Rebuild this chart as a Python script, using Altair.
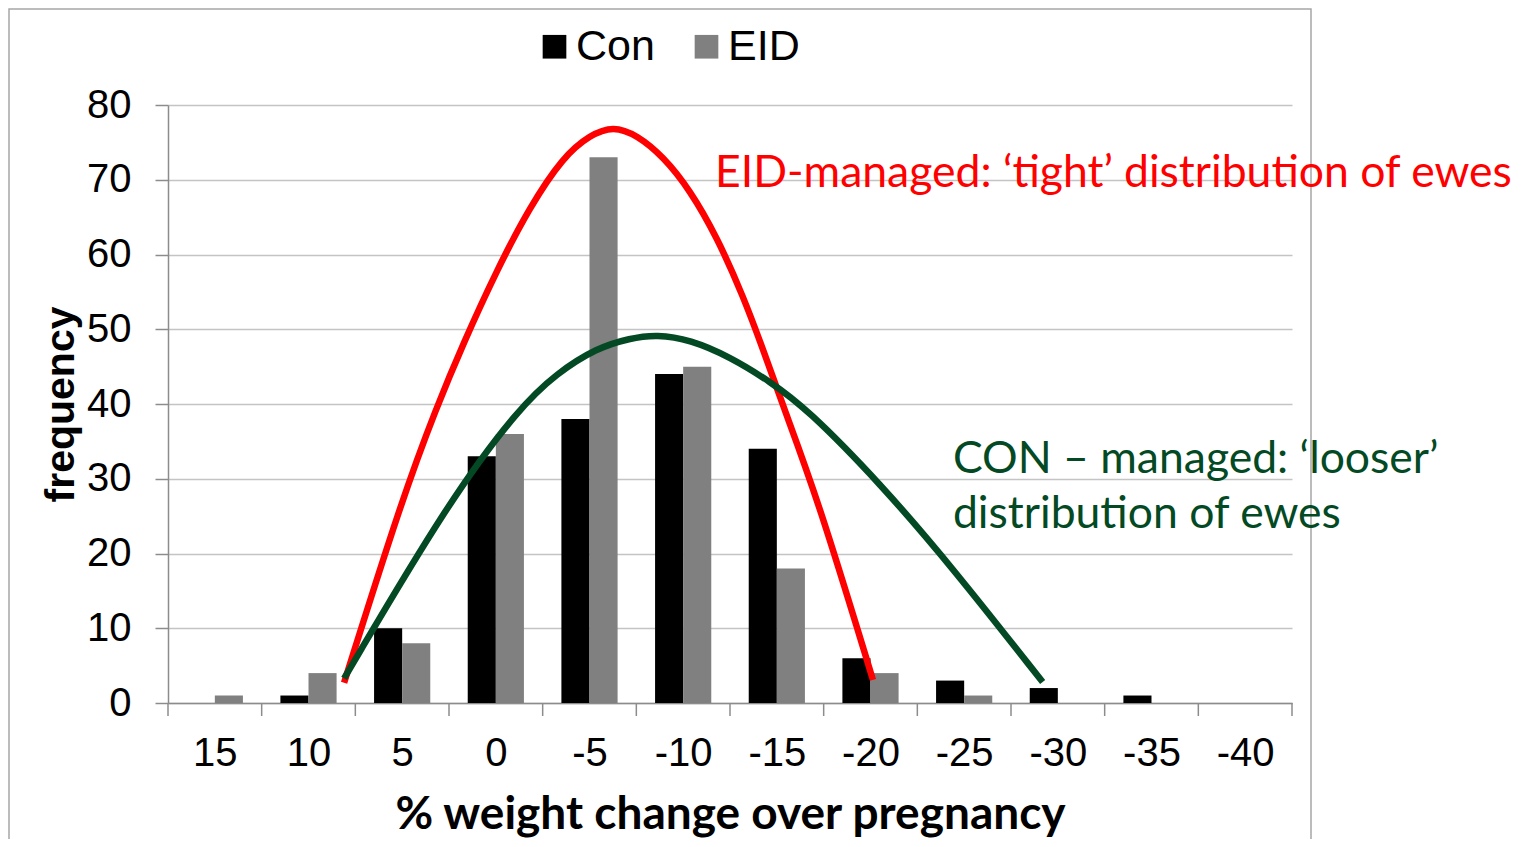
import altair as alt
import pandas as pd

# ---- data ----
categories = [15, 10, 5, 0, -5, -10, -15, -20, -25, -30, -35, -40]
con_counts = [0, 1, 10, 33, 38, 44, 34, 6, 3, 2, 1, 0]
eid_counts = [1, 4, 8, 36, 73, 45, 18, 4, 1, 0, 0, 0]
series_names = ["Con", "EID"]
series_colors = ["#000000", "#808080"]
y_ticks = [0, 10, 20, 30, 40, 50, 60, 70, 80]

# hand-drawn annotation curves (in data units)
eid_curve_x = [8.10, 5.02, 3.16, 1.74, -0.05, -1.82, -3.60, -5.03, -6.27, -7.52,
               -8.94, -10.37, -11.79, -13.21, -14.28, -15.35, -17.20, -20.13]
eid_curve_y = [2.7, 27.2, 39.6, 48.1, 57.9, 66.4, 73.1, 76.0, 77.2, 76.0,
               73.1, 68.6, 62.4, 54.4, 47.2, 39.6, 27.2, 3.1]
con_curve_x = [8.10, 2.47, -1.29, -3.25, -5.38, -7.16, -8.59, -10.37, -12.50,
               -14.64, -16.59, -20.51, -24.35, -29.19]
con_curve_y = [3.3, 27.2, 39.6, 44.1, 47.5, 48.8, 49.3, 48.6, 46.3,
               43.0, 39.4, 29.4, 18.2, 2.8]

eid_note = "EID-managed: \u2018tight\u2019 distribution of ewes"
eid_note_pos = (-11.7, 69.0)
con_note_lines = ["CON \u2013 managed: \u2018looser\u2019", "distribution of ewes"]
con_note_pos = [(-24.4, 30.8), (-24.4, 23.4)]
x_title = "% weight change over pregnancy"
y_title = "frequency"

# ---- tables ----
rows = []
for c, a, b in zip(categories, con_counts, eid_counts):
    rows.append({"cat": c, "series": "Con", "count": a})
    rows.append({"cat": c, "series": "EID", "count": b})
bars_df = pd.DataFrame(rows)
bars_df = bars_df[bars_df["count"] > 0]

bounds = [c + 2.5 for c in categories] + [categories[-1] - 2.5]
bounds_df = pd.DataFrame({"b": bounds})

curve_rows = []
for i, (x, y) in enumerate(zip(eid_curve_x, eid_curve_y)):
    curve_rows.append({"cx": x, "cy": y, "i": i, "curve": "eid"})
for i, (x, y) in enumerate(zip(con_curve_x, con_curve_y)):
    curve_rows.append({"cx": x, "cy": y, "i": i, "curve": "con"})
curves_df = pd.DataFrame(curve_rows)

notes_eid_df = pd.DataFrame({"tx": [eid_note_pos[0]], "ty": [eid_note_pos[1]], "t": [eid_note]})
notes_con_df = pd.DataFrame({"tx": [p[0] for p in con_note_pos], "ty": [p[1] for p in con_note_pos], "t": con_note_lines})

# ---- scales & axes ----
GRAY = "#8c8c8c"
xscale = alt.Scale(domain=[bounds[-1], bounds[0]], reverse=True, nice=False, zero=False)
yscale = alt.Scale(domain=[0, 80], nice=False)
xaxis = alt.Axis(
    values=categories, ticks=False, tickSize=0, grid=False,
    domainColor=GRAY, domainWidth=1.5,
    labelExpr="datum.value < 0 ? '-' + abs(datum.value) : '' + datum.value",
    labelFont="Liberation Sans", labelFontSize=40, labelColor="#000000", labelPadding=30,
    labelFlush=False, labelOverlap=False,
    title=x_title, titleFont="Lato", titleFontSize=46, titleFontWeight="bold",
    titleColor="#000000", titleBaseline="alphabetic", titleY=125,
)
yaxis = alt.Axis(
    values=y_ticks, grid=True, gridColor="#c4c4c4", gridWidth=1.5,
    domainColor=GRAY, domainWidth=1.5, tickColor=GRAY, tickWidth=1.5, tickSize=13,
    labelFont="Liberation Sans", labelFontSize=40, labelColor="#000000", labelPadding=24,
    title=y_title, titleFont="Liberation Sans", titleFontSize=41, titleFontWeight="bold",
    titleColor="#000000", titleAngle=270, titleBaseline="alphabetic", titleX=-95, titleY=299,
)

def X(field):
    return alt.X(field, type="quantitative", scale=xscale, axis=xaxis)

def Y(field):
    return alt.Y(field, type="quantitative", scale=yscale, axis=yaxis)

bars = alt.Chart(bars_df).transform_calculate(
    x0="datum.series == 'Con' ? datum.cat + 1.5 : datum.cat",
    x1="datum.series == 'Con' ? datum.cat : datum.cat - 1.5",
    zero="0",
).mark_bar(stroke=None).encode(
    x=X("x0"), x2="x1:Q",
    y=Y("count"), y2="zero:Q",
    color=alt.Color("series:N", scale=alt.Scale(domain=series_names, range=series_colors),
                    legend=alt.Legend(orient="none", legendX=365, legendY=-80, direction="horizontal",
                                      title=None, symbolType="square", symbolSize=560,
                                      symbolStrokeWidth=0, labelFont="Liberation Sans",
                                      labelFontSize=43, labelColor="#000000", labelOffset=0,
                                      columnPadding=30, padding=0)),
)

xticks = alt.Chart(bounds_df).mark_rule(color=GRAY, strokeWidth=1.5).encode(
    x=X("b"), y=alt.value(598), y2=alt.value(611)
)

red_curve = alt.Chart(curves_df).transform_filter("datum.curve == 'eid'").mark_line(
    color="#ff0000", strokeWidth=6.5, interpolate="basis", strokeCap="butt"
).encode(x=X("cx"), y=Y("cy"), order="i:Q")

green_curve = alt.Chart(curves_df).transform_filter("datum.curve == 'con'").mark_line(
    color="#034a24", strokeWidth=6.5, interpolate="basis", strokeCap="butt"
).encode(x=X("cx"), y=Y("cy"), order="i:Q")

eid_text = alt.Chart(notes_eid_df).mark_text(
    align="left", baseline="alphabetic", font="Lato", fontSize=44.5, color="#ff0000"
).encode(x=X("tx"), y=Y("ty"), text="t:N")

con_text = alt.Chart(notes_con_df).mark_text(
    align="left", baseline="alphabetic", font="Lato", fontSize=44.5, color="#034a24"
).encode(x=X("tx"), y=Y("ty"), text="t:N")

frame = alt.Chart(pd.DataFrame({"k": [0]})).mark_rect(
    fill=None, stroke="#a6a6a6", strokeWidth=1.5
).encode(x=alt.value(-159), x2=alt.value(1143), y=alt.value(-96), y2=alt.value(760))

chart = alt.layer(frame, bars, xticks, red_curve, green_curve, eid_text, con_text).properties(
    width=1124, height=598,
    autosize=alt.AutoSizeParams(type="none"),
    padding={"left": 160, "top": 97, "right": 222, "bottom": 136},
    background="white",
).configure_view(stroke=None)

chart.save("out.html", embed_options={"renderer": "svg", "actions": False})
